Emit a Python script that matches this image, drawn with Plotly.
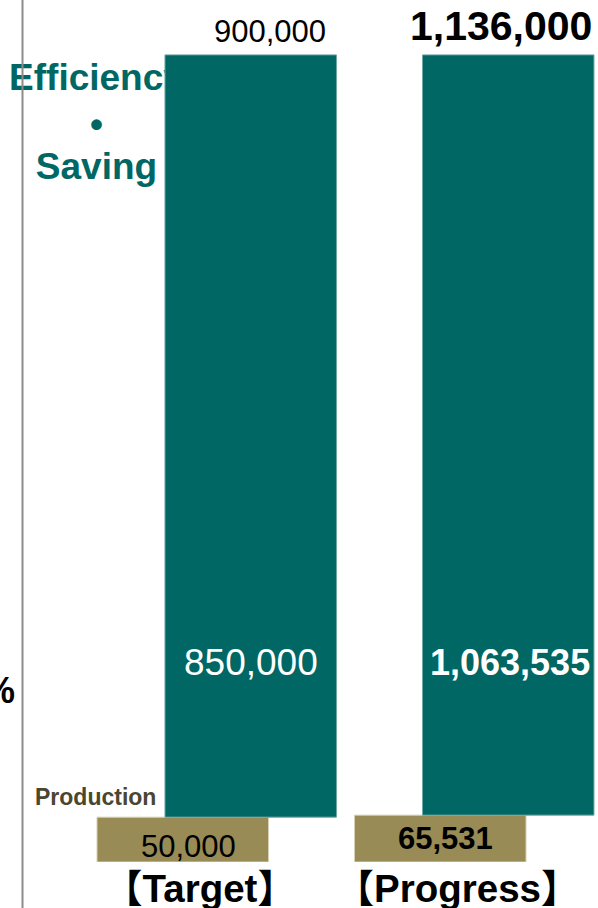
import plotly.graph_objects as go

# ---- data ----
categories = ["【Target】", "【Progress】"]
production = [50000, 65531]
efficiency = [850000, 1063535]
totals = [900000, 1136000]
side_label = ["Efficiency", "•", "Saving"]

TEAL = "#006764"
OLIVE = "#988B56"
PROD_TXT = "#4B4630"
FONT = "Liberation Sans, Arial, Noto Sans CJK JP, sans-serif"

xpos = list(range(len(categories)))
total_sum = [p + e for p, e in zip(production, efficiency)]
prod_share = [100 * p / t for p, t in zip(production, total_sum)]
eff_share = [100 * e / t for e, t in zip(efficiency, total_sum)]
top_share = [p + e for p, e in zip(prod_share, eff_share)]

BAR_W = 0.666
OLIVE_OFF = -0.5
TEAL_OFF = -0.236
XR = [-0.8767, 1.4456]
YR = [0, 106.8]

fig = go.Figure()

# label drawn beneath the bars (main subplot, bars sit on an overlaying subplot)
fig.add_trace(go.Scatter(
    x=[-0.502] * len(side_label), y=[96.78, 90.95, 85.75], mode="text",
    text=side_label, textposition="middle center",
    textfont=dict(family=FONT, size=37, color=TEAL, weight="bold"),
    hoverinfo="skip", showlegend=False,
))

fig.add_trace(go.Bar(
    x=xpos, y=prod_share, base=[0] * len(xpos), width=BAR_W, offset=OLIVE_OFF,
    marker=dict(color=OLIVE, line=dict(color="#d6d0b4", width=1)),
    xaxis="x2", yaxis="y2", showlegend=False, hoverinfo="skip",
))
fig.add_trace(go.Bar(
    x=xpos, y=eff_share, base=prod_share, width=BAR_W, offset=TEAL_OFF,
    marker=dict(color=TEAL, line=dict(color="#6fa9a6", width=1)),
    xaxis="x2", yaxis="y2", showlegend=False, hoverinfo="skip",
))

annotations = []
# totals above the teal bars
tot_styles = [dict(size=31, weight="normal", xshift=-8, yshift=4),
              dict(size=41, weight="bold", xshift=0, yshift=4)]
for i, x in enumerate(xpos):
    s = tot_styles[i]
    annotations.append(dict(
        x=x + TEAL_OFF + BAR_W, y=top_share[i], xref="x", yref="y",
        text=f"{totals[i]:,}", showarrow=False, xanchor="right", yanchor="bottom",
        xshift=s["xshift"], yshift=s["yshift"],
        font=dict(family=FONT, size=s["size"], color="black", weight=s["weight"]),
    ))
# values inside the teal bars
weights = ["normal", "bold"]
eff_sizes = [37, 36]
for i, x in enumerate(xpos):
    annotations.append(dict(
        x=x + TEAL_OFF + BAR_W / 2, y=24.7, xref="x", yref="y",
        text=f"{efficiency[i]:,}", showarrow=False, xanchor="center", yanchor="middle",
        xshift=0 if i == 0 else 2,
        font=dict(family=FONT, size=eff_sizes[i], color="white", weight=weights[i]),
    ))
# values in the olive bars
prod_y = [1.86, 2.97]
for i, x in enumerate(xpos):
    annotations.append(dict(
        x=x + OLIVE_OFF + BAR_W / 2, y=prod_y[i], xref="x", yref="y",
        text=f"{production[i]:,}", showarrow=False, xanchor="center", yanchor="middle",
        xshift=6 if i == 0 else 5,
        font=dict(family=FONT, size=31, color="black", weight=weights[i]),
    ))
annotations.append(dict(
    x=-0.507, y=8.05, xref="x", yref="y", text="Production", showarrow=False,
    xanchor="center", yanchor="middle",
    font=dict(family=FONT, size=23, color=PROD_TXT, weight="bold"),
))
annotations.append(dict(
    x=17 / 598, y=21.3, xref="paper", yref="y", text="%", showarrow=False,
    xanchor="right", yanchor="middle",
    font=dict(family=FONT, size=36, color="black", weight="bold"),
))

fig.update_layout(
    width=598, height=908,
    margin=dict(l=0, r=0, t=0, b=46, pad=0, autoexpand=False),
    paper_bgcolor="white", plot_bgcolor="white",
    barmode="overlay",
    showlegend=False,
    xaxis=dict(range=XR, tickvals=[x - 0.1 for x in xpos], ticktext=categories,
               tickfont=dict(family=FONT, size=38.5, color="black", weight="bold"),
               showgrid=False, zeroline=False, showline=False, ticks="",
               automargin=False),
    yaxis=dict(range=YR, visible=False, automargin=False),
    xaxis2=dict(range=XR, overlaying="x", visible=False),
    yaxis2=dict(range=YR, overlaying="y", visible=False),
    annotations=annotations,
    shapes=[dict(type="line", xref="paper", yref="paper",
                 x0=22.5 / 598, x1=22.5 / 598, y0=-46 / 862, y1=1,
                 line=dict(color="#8c8c8c", width=2))],
)

fig.write_html("out.html", config={"displayModeBar": False},
               post_script="document.body.style.margin='0';")
